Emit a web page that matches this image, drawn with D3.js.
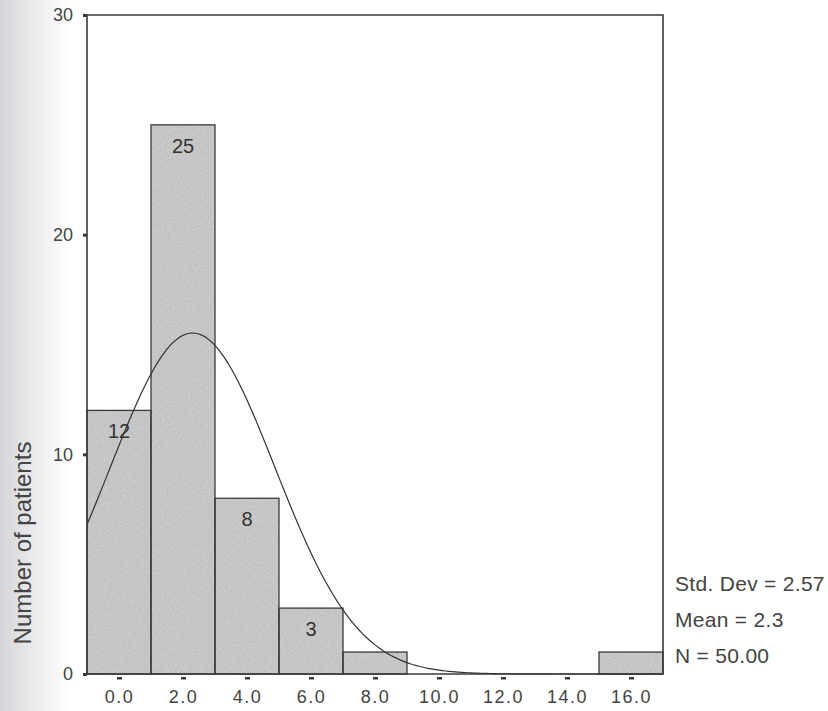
<!DOCTYPE html>
<html>
<head>
<meta charset="utf-8">
<script src="https://cdn.jsdelivr.net/npm/d3@7"></script>
<style>
  body { margin: 0; background: #fff; }
  svg { display: block; font-family: "Liberation Sans", Arial, sans-serif; }
</style>
</head>
<body>
<div class="board"></div>
<script>
// histogram data
var binCenters = [0, 2, 4, 6, 8, 10, 12, 14, 16];
var counts = [12, 25, 8, 3, 1, 0, 0, 0, 1];
var barLabels = ['12', '25', '8', '3', '', '', '', '', ''];
var yTicks = [0, 10, 20, 30];
var xTickLabels = ['0.0', '2.0', '4.0', '6.0', '8.0', '10.0', '12.0', '14.0', '16.0'];
var statLines = ['Std. Dev = 2.57', 'Mean = 2.3', 'N = 50.00'];
var stdDev = 2.57, mean = 2.3, n = 50, binWidth = 2;

var width = 828;
var height = 711;
var margin = {left: 87, top: 15, right: 165, bottom: 37};

var svg = d3.select('.board').append('svg')
  .attr('width', width)
  .attr('height', height);

var defs = svg.append('defs');

// scanned page shading on the left
var grad = defs.append('linearGradient')
  .attr('id', 'shade').attr('x1', 0).attr('x2', 1).attr('y1', 0).attr('y2', 0);
grad.append('stop').attr('offset', '0%').attr('stop-color', '#d6d6da');
grad.append('stop').attr('offset', '100%').attr('stop-color', '#ffffff');
svg.append('rect').attr('x', 0).attr('y', 0).attr('width', 70).attr('height', height)
  .attr('fill', 'url(#shade)');

// speckled fill like the printed bars
var speckle = defs.append('filter').attr('id', 'speckle')
  .attr('x', 0).attr('y', 0).attr('width', 1).attr('height', 1);
speckle.append('feTurbulence').attr('type', 'fractalNoise')
  .attr('baseFrequency', 0.7).attr('numOctaves', 2).attr('seed', 3).attr('result', 'noise');
speckle.append('feColorMatrix').attr('in', 'noise').attr('type', 'matrix')
  .attr('values', '0 0 0 0 0.45  0 0 0 0 0.45  0 0 0 0 0.45  1.6 0 0 0 -0.62')
  .attr('result', 'dots');
speckle.append('feComposite').attr('in', 'dots').attr('in2', 'SourceGraphic')
  .attr('operator', 'in').attr('result', 'dotsIn');
speckle.append('feMerge').selectAll('feMergeNode')
  .data(['SourceGraphic', 'dotsIn']).enter().append('feMergeNode')
  .attr('in', function(d) { return d; });

var x = d3.scaleLinear().domain([-1, 17]).range([margin.left, width - margin.right]);
var y = d3.scaleLinear().domain([0, 30]).range([height - margin.bottom, margin.top]);

var ink = '#3a3a3a';

// bars
var shown = counts.map(function(d, i) { return {c: d, i: i}; })
  .filter(function(d) { return d.c > 0; });

svg.selectAll('rect.bar')
  .data(shown)
  .enter().append('rect')
  .attr('class', 'bar')
  .attr('x', function(d) { return x(binCenters[d.i] - binWidth / 2); })
  .attr('width', function(d) { return x(binCenters[d.i] + binWidth / 2) - x(binCenters[d.i] - binWidth / 2); })
  .attr('y', function(d) { return y(d.c); })
  .attr('height', function(d) { return y(0) - y(d.c); })
  .attr('fill', '#cacaca')
  .attr('filter', 'url(#speckle)');

svg.selectAll('rect.edge')
  .data(shown)
  .enter().append('rect')
  .attr('class', 'edge')
  .attr('x', function(d) { return x(binCenters[d.i] - binWidth / 2); })
  .attr('width', function(d) { return x(binCenters[d.i] + binWidth / 2) - x(binCenters[d.i] - binWidth / 2); })
  .attr('y', function(d) { return y(d.c); })
  .attr('height', function(d) { return y(0) - y(d.c); })
  .attr('fill', 'none')
  .attr('stroke', ink)
  .attr('stroke-width', 1.3);

// count labels inside bars
svg.selectAll('text.count')
  .data(counts)
  .enter().append('text')
  .attr('class', 'count')
  .attr('x', function(d, i) { return x(binCenters[i]); })
  .attr('y', function(d) { return y(d) + 28; })
  .attr('text-anchor', 'middle')
  .attr('font-size', 20)
  .attr('fill', '#333')
  .text(function(d, i) { return barLabels[i]; });

// normal curve from the stats
var curvePts = d3.range(-1, 17.01, 0.1).map(function(v) {
  var z = (v - mean) / stdDev;
  return [v, n * binWidth / (stdDev * Math.sqrt(2 * Math.PI)) * Math.exp(-0.5 * z * z)];
});
svg.append('path')
  .datum(curvePts)
  .attr('fill', 'none')
  .attr('stroke', '#333')
  .attr('stroke-width', 1.2)
  .attr('d', d3.line()
    .x(function(d) { return x(d[0]); })
    .y(function(d) { return y(d[1]); }));

// frame
svg.append('path')
  .attr('d', 'M' + x(-1) + ',' + y(0) + 'V' + y(30) + 'H' + x(17) + 'V' + y(0) + 'Z')
  .attr('fill', 'none')
  .attr('stroke', ink)
  .attr('stroke-width', 1.6);

// y axis
var yAxis = svg.append('g')
  .attr('transform', 'translate(' + x(-1) + ',0)')
  .call(d3.axisLeft(y).tickValues(yTicks).tickSize(4).tickPadding(10).tickFormat(d3.format('d')));
yAxis.select('.domain').remove();
yAxis.selectAll('line').attr('stroke', ink).attr('stroke-width', 3);
yAxis.selectAll('text').attr('font-size', 18).attr('fill', '#444')
  .attr('font-family', '"Liberation Sans", Arial, sans-serif');

// x axis
var xAxis = svg.append('g')
  .attr('transform', 'translate(0,' + y(0) + ')')
  .call(d3.axisBottom(x).tickValues(binCenters).tickSize(0).tickPadding(16)
    .tickFormat(function(d, i) { return xTickLabels[i]; }));
xAxis.select('.domain').remove();
xAxis.selectAll('.tick').append('rect')
  .attr('x', -2.5).attr('y', 3).attr('width', 5).attr('height', 2.5).attr('fill', ink);
xAxis.selectAll('text').attr('font-size', 18).attr('fill', '#444')
  .attr('letter-spacing', 1.5)
  .attr('font-family', '"Liberation Sans", Arial, sans-serif');

// y label
svg.append('text')
  .attr('transform', 'translate(31,543) rotate(-90)')
  .attr('text-anchor', 'middle')
  .attr('font-size', 24)
  .attr('fill', '#444')
  .text('Number of patients');

// stats block
svg.selectAll('text.stat')
  .data(statLines)
  .enter().append('text')
  .attr('class', 'stat')
  .attr('x', x(17) + 12)
  .attr('y', function(d, i) { return 591 + i * 36; })
  .attr('font-size', 21)
  .attr('letter-spacing', 0.3)
  .attr('fill', '#444')
  .text(function(d) { return d; });
</script>
</body>
</html>
